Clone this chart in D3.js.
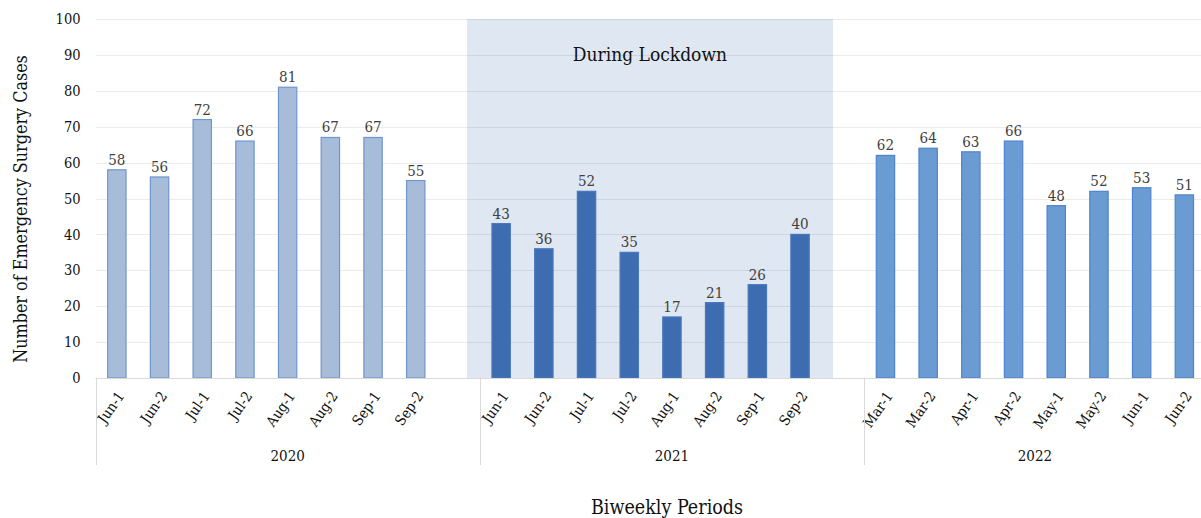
<!DOCTYPE html>
<html>
<head>
<meta charset="utf-8">
<script src="https://cdn.jsdelivr.net/npm/d3@7"></script>
<style>
	html, body { margin: 0; padding: 0; background: #fff; }
	svg text { font-family: "DejaVu Serif Condensed", "DejaVu Serif", serif; font-stretch: condensed; }
</style>
</head>
<body>
<svg id="chart" width="1201" height="518"></svg>
<script>
// chart values
const years = ['2020', '2021', '2022'];
const periods2020 = ['Jun-1', 'Jun-2', 'Jul-1', 'Jul-2', 'Aug-1', 'Aug-2', 'Sep-1', 'Sep-2'];
const cases2020 = [58, 56, 72, 66, 81, 67, 67, 55];
const periods2021 = ['Jun-1', 'Jun-2', 'Jul-1', 'Jul-2', 'Aug-1', 'Aug-2', 'Sep-1', 'Sep-2'];
const cases2021 = [43, 36, 52, 35, 17, 21, 26, 40];
const periods2022 = ['Mar-1', 'Mar-2', 'Apr-1', 'Apr-2', 'May-1', 'May-2', 'Jun-1', 'Jun-2'];
const cases2022 = [62, 64, 63, 66, 48, 52, 53, 51];
const yTicks = [0, 10, 20, 30, 40, 50, 60, 70, 80, 90, 100];

const barFill = { '2020': '#a6bcd9', '2021': '#3d6cb0', '2022': '#6b9bd3' };
const barStroke = { '2020': '#7196cf', '2021': '#4a77bd', '2022': '#4f83cc' };

// one slot per period, plus an empty slot after 2020 and 2021
const slots = [];
const addYear = function(year, periods, cases, withGap)
{
	periods.forEach(function(p, i){
		slots.push({ key: year + '|' + p, year: year, label: p, value: cases[i] });
	});
	if(withGap)
	{
		slots.push({ key: year + '|gap', year: year, label: '', value: null });
	}
};
addYear('2020', periods2020, cases2020, true);
addYear('2021', periods2021, cases2021, true);
addYear('2022', periods2022, cases2022, false);

const svg = d3.select('#chart');
const plotLeft = 95.5, plotRight = 1205.7, plotTop = 19, plotBottom = 378;

const x = d3.scaleBand().domain(slots.map((d)=>d.key)).range([plotLeft, plotRight]).padding(0);
const y = d3.scaleLinear().domain([0, 100]).range([plotBottom, plotTop]);
const bw = x.bandwidth();
const barW = bw * 0.43;

// lockdown shading
const shadeX0 = x('2020|gap') + bw * 0.7;
const shadeX1 = x('2021|gap') + bw * 0.27;
svg.append('rect')
	.attr('x', shadeX0).attr('y', y(100))
	.attr('width', shadeX1 - shadeX0).attr('height', y(0) - y(100))
	.attr('fill', '#dee7f2');

// gridlines
svg.append('g').selectAll('line')
	.data(yTicks.filter((t)=>t > 0))
	.join('line')
	.attr('x1', plotLeft).attr('x2', 1201)
	.attr('y1', (d)=>Math.round(y(d)) + 0.5).attr('y2', (d)=>Math.round(y(d)) + 0.5)
	.attr('stroke', 'rgba(0,0,0,0.08)').attr('stroke-width', 1);

svg.append('text')
	.attr('x', (shadeX0 + shadeX1) / 2).attr('y', 61)
	.attr('text-anchor', 'middle')
	.attr('font-size', 19).attr('fill', '#111')
	.text('During Lockdown');

// y axis labels
const yAxis = d3.axisLeft(y).tickValues(yTicks).tickSize(0).tickPadding(15);
svg.append('g')
	.attr('transform', 'translate(' + plotLeft + ',0)')
	.call(yAxis)
	.call((g)=>g.select('.domain').remove())
	.call((g)=>g.attr('font-family', null))
	.call((g)=>g.selectAll('text').attr('font-size', 14.5).attr('fill', '#111'));

// bars
const barData = slots.filter((d)=>d.value != null);
svg.append('g').selectAll('rect')
	.data(barData)
	.join('rect')
	.attr('x', (d)=>x(d.key) + (bw - barW) / 2)
	.attr('y', (d)=>y(d.value))
	.attr('width', barW)
	.attr('height', (d)=>y(0) - y(d.value))
	.attr('fill', (d)=>barFill[d.year])
	.attr('stroke', (d)=>barStroke[d.year])
	.attr('stroke-width', 1.2);

// value labels
svg.append('g').selectAll('text')
	.data(barData)
	.join('text')
	.attr('x', (d)=>x(d.key) + bw / 2)
	.attr('y', (d)=>y(d.value) - 5)
	.attr('text-anchor', 'middle')
	.attr('font-size', 15).attr('fill', '#404040')
	.text((d)=>d.value);

// baseline
svg.append('line')
	.attr('x1', plotLeft).attr('x2', 1201)
	.attr('y1', plotBottom + 0.5).attr('y2', plotBottom + 0.5)
	.attr('stroke', '#d9d9d9').attr('stroke-width', 1);

// category labels
svg.append('g').selectAll('text')
	.data(barData)
	.join('text')
	.attr('transform', (d)=>'translate(' + (x(d.key) + bw / 2 + 4) + ',' + (plotBottom + 15) + ') rotate(-55)')
	.attr('text-anchor', 'end')
	.attr('dy', '0.35em')
	.attr('font-size', 14.5).attr('fill', '#111')
	.text((d)=>d.label);

// year group separators and labels
const yearStart = (yr)=>x(slots.find((d)=>d.year == yr).key);
const yearEnd = function(yr)
{
	const s = slots.filter((d)=>d.year == yr);
	return x(s[s.length - 1].key) + bw;
};
svg.append('g').selectAll('line')
	.data(years)
	.join('line')
	.attr('x1', (d)=>Math.round(yearStart(d)) + 0.5).attr('x2', (d)=>Math.round(yearStart(d)) + 0.5)
	.attr('y1', plotBottom).attr('y2', 465)
	.attr('stroke', '#d9d9d9').attr('stroke-width', 1);

svg.append('g').selectAll('text')
	.data(years)
	.join('text')
	.attr('x', (d)=>(yearStart(d) + yearEnd(d)) / 2)
	.attr('y', 461)
	.attr('text-anchor', 'middle')
	.attr('font-size', 15).attr('fill', '#111')
	.text((d)=>d);

// axis titles
svg.append('text')
	.attr('transform', 'translate(27,209) rotate(-90)')
	.attr('text-anchor', 'middle')
	.attr('font-size', 17.8).attr('fill', '#111')
	.text('Number of Emergency Surgery Cases');

svg.append('text')
	.attr('x', 667).attr('y', 514)
	.attr('text-anchor', 'middle')
	.attr('font-size', 19.5).attr('fill', '#111')
	.text('Biweekly Periods');
</script>
</body>
</html>
